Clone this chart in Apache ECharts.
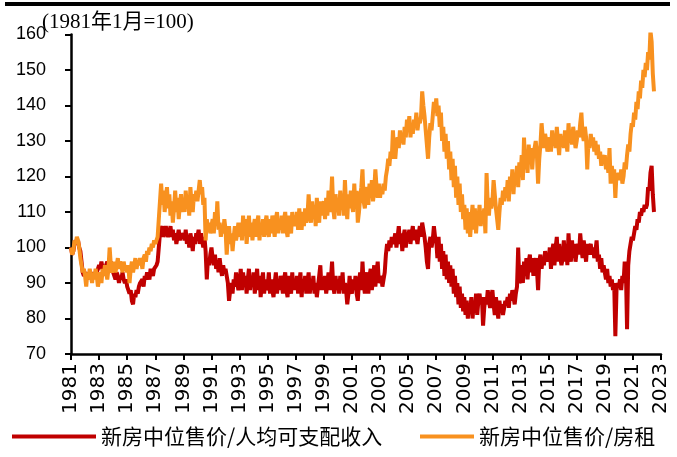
<!DOCTYPE html>
<html>
<head>
<meta charset="utf-8">
<script src="https://cdn.jsdelivr.net/npm/echarts@6/dist/echarts.min.js"></script>
<style>html,body{margin:0;padding:0;background:#fff}#c{width:677px;height:457px}</style>
</head>
<body>
<div id="c"></div>
<script>
// Monthly series, starting January 1981 (1981-01 = 100)
const startYear = 1981;
const seriesNames = ['新房中位售价/人均可支配收入', '新房中位售价/房租'];
const priceToIncome = [
100,98,99,101,102,101,102,100,99,96,93,92,
92,93,91,92,92,93,91,92,93,92,93,94,
95,94,96,94,95,93,95,96,94,95,96,94,
93,92,91,93,92,90,92,91,93,91,90,91,
89,88,87,88,85,84,87,86,88,87,89,90,
90,91,89,92,91,93,92,91,94,93,92,94,
94,95,96,100,104,105,106,103,104,106,104,103,
104,106,103,105,102,104,101,103,105,102,104,103,
104,102,105,101,103,100,104,102,99,103,101,104,
103,105,101,104,102,100,103,99,91,97,95,98,
100,97,95,98,94,96,93,97,94,92,95,93,
94,92,90,85,88,90,87,91,89,93,90,88,
90,94,88,93,89,92,87,91,94,88,92,89,
93,87,91,94,88,92,86,90,93,87,91,88,
89,93,87,91,88,86,90,93,87,91,88,92,
90,87,91,93,88,86,92,89,87,93,88,91,
88,92,87,90,93,86,91,88,92,87,90,93,
87,91,88,92,87,90,86,89,92,95,88,91,
88,92,87,90,93,88,91,96,89,87,92,88,
91,87,92,88,93,87,90,88,84,87,92,88,
87,91,88,92,87,85,90,93,88,96,90,87,
91,93,87,92,94,88,91,95,89,93,96,90,
90,92,89,91,93,98,101,99,102,100,103,101,
102,104,100,103,106,101,104,99,103,105,100,104,
103,105,101,104,106,102,105,103,101,104,106,103,
107,105,103,100,96,94,101,103,100,102,106,103,
102,97,103,96,101,94,99,92,98,91,96,90,
95,89,94,87,92,86,90,84,89,83,87,82,
86,81,85,80,84,82,86,80,84,82,87,81,
85,87,84,86,78,83,86,84,88,85,83,86,
88,84,81,86,83,80,85,82,84,81,83,85,
84,86,83,87,85,88,86,84,87,89,100,90,
91,95,90,96,92,97,91,96,98,93,97,92,
95,97,94,88,96,98,94,97,95,99,96,98,
96,100,94,99,101,95,100,103,96,101,97,95,
97,102,96,101,95,104,98,96,102,97,101,96,
99,101,98,104,100,97,102,99,96,101,98,100,
101,98,100,97,99,102,96,98,94,97,93,95,
93,91,94,90,92,89,91,88,90,75,88,90,
89,91,88,92,90,96,94,77,95,99,101,103,
102,104,106,105,108,107,110,109,111,110,112,111,
112,117,116,121,123,115,110
];
const priceToRent = [
100,98,99,102,101,103,102,100,97,95,93,94,
92,89,93,91,94,92,90,93,91,94,92,89,
91,93,90,94,92,95,93,91,94,100,95,93,
94,96,93,95,97,94,96,95,93,96,94,95,
93,95,90,94,96,93,95,97,94,96,95,97,
96,94,97,98,96,99,98,100,99,101,100,102,
101,102,103,108,113,118,112,116,110,114,117,111,
115,109,113,107,111,116,110,114,108,112,115,110,
113,110,116,111,114,109,117,112,110,115,113,116,
113,116,119,115,117,112,114,102,108,105,107,104,
106,108,104,110,106,113,105,107,103,106,104,108,
105,98,103,106,101,104,99,103,106,102,104,107,
103,107,102,109,104,108,101,105,109,103,107,102,
106,108,103,107,109,102,106,104,108,103,107,109,
105,103,108,104,109,106,103,108,110,104,108,105,
109,104,108,110,105,103,109,106,104,110,106,109,
106,110,105,111,107,105,110,106,111,107,109,115,
109,107,113,108,112,106,114,109,107,113,109,112,
113,108,114,109,116,110,113,120,111,108,115,110,
114,109,116,111,115,109,119,112,108,115,111,116,
112,110,118,111,116,107,110,114,117,122,113,111,
115,117,112,118,114,119,113,116,122,117,114,118,
114,117,115,118,116,120,122,125,123,127,125,133,
127,125,129,131,128,133,130,132,129,134,131,136,
133,137,131,135,132,136,134,138,133,136,135,137,
144,140,137,133,129,125,131,135,133,137,141,138,
142,137,140,134,138,130,134,127,132,125,130,122,
127,119,125,117,123,114,120,112,118,110,115,108,
112,105,111,104,110,103,108,112,105,111,104,109,
108,112,106,110,108,111,104,121,112,109,114,111,
113,119,115,111,108,105,110,114,112,116,113,117,
114,119,113,120,116,122,115,121,118,123,117,124,
120,126,119,131,122,127,121,129,124,128,122,127,
128,130,126,118,125,129,135,131,128,132,130,127,
129,131,127,133,129,131,128,134,130,126,132,129,
131,128,133,130,127,135,130,132,129,134,131,128,
130,133,131,135,138,132,130,134,131,122,130,128,
132,129,131,127,130,126,129,125,127,123,126,124,
126,122,125,121,128,118,123,120,122,114,121,119,
121,119,122,118,120,124,122,126,129,127,132,135,
134,138,136,141,139,144,142,147,145,150,148,152,
150,155,153,161,158,149,144
];
const yearLabels = ['1981','1983','1985','1987','1989','1991','1993','1995','1997','1999','2001','2003','2005','2007','2009','2011','2013','2015','2017','2019','2021','2023'];
const yAxisMin = 70, yAxisMax = 160, yAxisStep = 10;

const toPairs = arr => arr.map((v, i) => [i, v]);

const chart = echarts.init(document.getElementById('c'), null, {renderer: 'canvas'});
chart.setOption({
  animation: false,
  backgroundColor: '#fff',
  graphic: [
    {type: 'rect', shape: {x: 5, y: 2, width: 665, height: 4}, style: {fill: '#000'}},
    {type: 'text', left: 42, top: 12, style: {text: '(1981年1月=100)', fill: '#000', font: '21px "Liberation Serif", "Noto Sans CJK SC"'}}
  ],
  grid: {left: 71, right: 16, top: 34.5, bottom: 103, containLabel: false},
  legend: [
    {data: [seriesNames[0]], left: 12, top: 426, padding: 0, icon: 'rect', itemWidth: 84, itemHeight: 4, itemGap: 4,
     textStyle: {fontSize: 21, fontFamily: 'Noto Sans CJK SC', color: '#000'}},
    {data: [seriesNames[1]], left: 420, top: 426, padding: 0, icon: 'rect', itemWidth: 54, itemHeight: 4, itemGap: 4,
     textStyle: {fontSize: 21, fontFamily: 'Noto Sans CJK SC', color: '#000'}}
  ],
  xAxis: {
    type: 'value', min: 0, max: (yearLabels.length - 1) * 24, interval: 24,
    axisLine: {show: true, lineStyle: {color: '#000', width: 2.5}},
    axisTick: {show: true, length: 6, lineStyle: {color: '#000', width: 2}},
    axisLabel: {rotate: 90, margin: 9, fontSize: 20, fontFamily: 'DejaVu Sans', color: '#000',
      formatter: v => yearLabels[Math.round(v / 24)] || ''},
    splitLine: {show: false}
  },
  yAxis: {
    type: 'value', min: yAxisMin, max: yAxisMax, interval: yAxisStep,
    axisLine: {show: true, lineStyle: {color: '#000', width: 2.5}},
    axisTick: {show: true, length: 6, lineStyle: {color: '#000', width: 2}},
    axisLabel: {margin: 25, fontSize: 18, fontFamily: 'Liberation Sans', color: '#000'},
    splitLine: {show: false}
  },
  series: [
    {name: seriesNames[0], type: 'line', data: toPairs(priceToIncome), showSymbol: false, symbol: 'none',
     lineStyle: {color: '#C00000', width: 4}, itemStyle: {color: '#C00000'}, z: 2},
    {name: seriesNames[1], type: 'line', data: toPairs(priceToRent), showSymbol: false, symbol: 'none',
     lineStyle: {color: '#F8911F', width: 4}, itemStyle: {color: '#F8911F'}, z: 3}
  ]
});
</script>
</body>
</html>
